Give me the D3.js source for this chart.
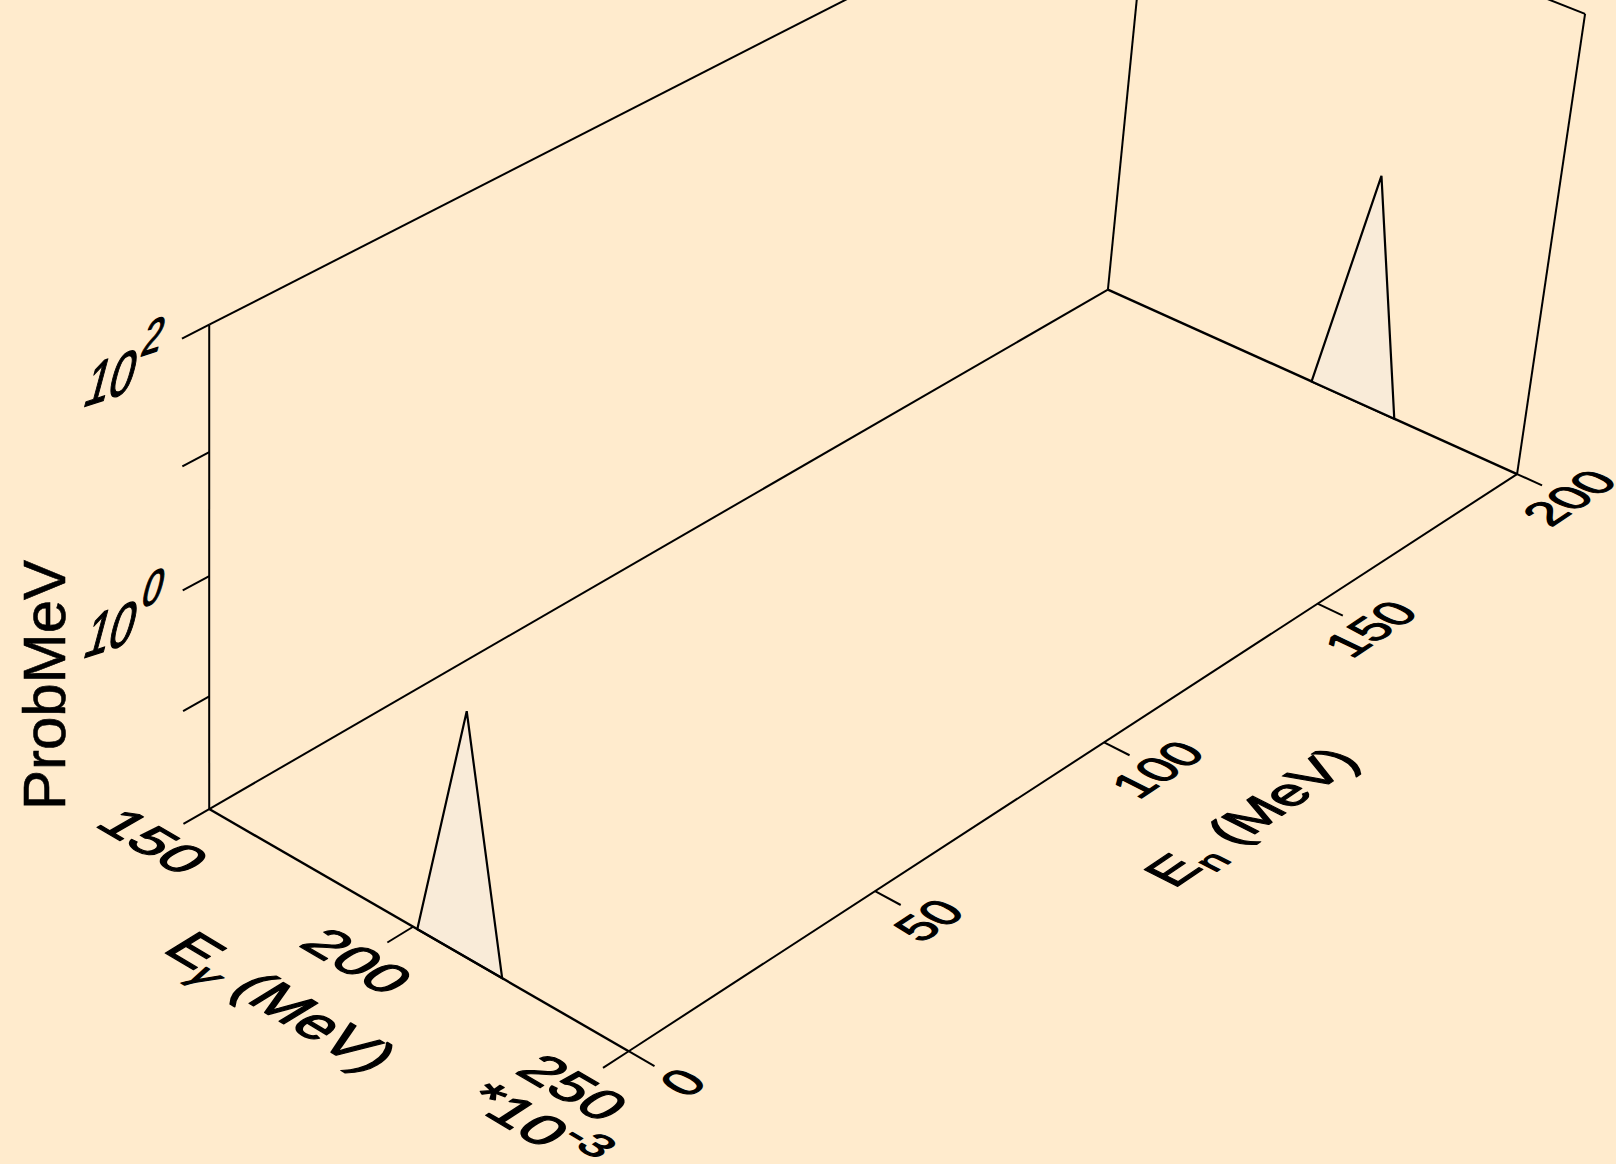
<!DOCTYPE html>
<html><head><meta charset="utf-8">
<script src="https://cdn.jsdelivr.net/npm/d3@7"></script>
<style>html,body{margin:0;padding:0;background:#ffebcd;} svg{display:block;}</style>
</head><body><svg id="chart" width="1616" height="1164"></svg>
<script>
// ---------------- data ----------------
const egammaDomain = [150, 250];          // Eγ axis (×10^-3 MeV)
const enDomain = [0, 200];                // En axis (MeV)
const probDomain = [Math.pow(10, -1.96), 100];
const egammaTicks = [150, 200, 250];
const enTicks = [0, 50, 100, 150, 200];
const probTicks = [0.1, 1, 10, 100];
const probLabelExps = [0, 2];             // labelled decades 10^0, 10^2
const peakEgamma = [201, 211, 221];
const peakSliceEn = [0, 200];
const peakProbEn0 = [0, 1.1, 0];
const peakProbEn200 = [0, 1.1, 0];

// ---------------- projection (perspective camera) ----------------
const S = 1616 / 1568;
function proj(u, v, w) {
  const D = 1 - 0.05428 * u + 0.14304 * v - 0.05381 * w;
  const X = (373.89 * u + 1025.77 * v - 10.92 * w + 203) / D;
  const Y = (179.63 * u - 463.81 * v - 486.9 * w + 785) / D;
  return [X * S, Y * S];
}
const xs = d3.scaleLinear().domain(egammaDomain).range([0, 1]);
const ys = d3.scaleLinear().domain(enDomain).range([0, 1]);
const zs = d3.scaleLog().domain(probDomain).range([0, 1]);
const zw = p => (p > 0 ? Math.max(0, zs(p)) : 0);

const svg = d3.select('#chart');
svg.append('rect').attr('width', 1616).attr('height', 1164).attr('fill', '#ffebcd');
const line = d3.line();
const FONT = '"Liberation Sans", Arial, Helvetica, sans-serif';

function seg(g, a, b, sw) {
  g.append('path').attr('d', line([proj(...a), proj(...b)]))
    .attr('stroke', '#000').attr('stroke-width', sw).attr('fill', 'none')
    .attr('stroke-linecap', 'butt');
}

const gBox = svg.append('g');
seg(gBox, [0, 0, 0], [0, 1, 0], 2);
seg(gBox, [0, 1, 0], [1, 1, 0], 2.4);
seg(gBox, [0, 1, 0], [0, 1, 1], 2);
seg(gBox, [1, 1, 0], [1, 1, 1], 2);
seg(gBox, [0, 0, 1], [0, 1, 1], 2);
seg(gBox, [0, 1, 1], [1, 1, 1], 2);

// peaks (surface profile on the En slices)
const gPeaks = svg.append('g');
[[peakSliceEn[0], peakProbEn0], [peakSliceEn[1], peakProbEn200]].forEach(([en, probs]) => {
  const pts = peakEgamma.map((e, i) => proj(xs(e), ys(en), zw(probs[i])));
  gPeaks.append('path').attr('d', line(pts) + 'Z')
    .attr('fill', '#f9ebd8').attr('stroke', '#000').attr('stroke-width', 2.2)
    .attr('stroke-linejoin', 'miter');
});

// axes
const gAx = svg.append('g');
seg(gAx, [0, 0, 0], [1, 0, 0], 2.4);
seg(gAx, [1, 0, 0], [1, 1, 0], 2);
seg(gAx, [0, 0, 0], [0, 0, 1], 2);
egammaTicks.forEach(t => seg(gAx, [xs(t), 0, 0], [xs(t), -0.025, 0], 2));
enTicks.forEach(t => seg(gAx, [1, ys(t), 0], [1.058, ys(t), 0], 2));
probTicks.forEach(t => seg(gAx, [0, 0, zs(t)], [0, -0.025, zs(t)], 2));

// text helpers
function frameAt(p3, B, U) {
  const e = 1e-4;
  const p = proj(...p3);
  const pb = proj(p3[0] + B[0] * e, p3[1] + B[1] * e, p3[2] + B[2] * e);
  const pu = proj(p3[0] + U[0] * e, p3[1] + U[1] * e, p3[2] + U[2] * e);
  let bx = pb[0] - p[0], by = pb[1] - p[1]; const bl = Math.hypot(bx, by);
  let ux = pu[0] - p[0], uy = pu[1] - p[1]; const ul = Math.hypot(ux, uy);
  return { p, b: [bx / bl, by / bl], u: [ux / ul, uy / ul] };
}
const F = 50;
function placeText(p, b, u, emB, emU, sw) {
  const a = b[0] * emB / F, bb = b[1] * emB / F, c = -u[0] * emU / F, d = -u[1] * emU / F;
  return svg.append('g')
    .attr('transform', `matrix(${a},${bb},${c},${d},${p[0]},${p[1]})`)
    .append('text').attr('font-family', FONT).attr('font-size', F).attr('fill', '#000')
    .attr('stroke', '#000').attr('stroke-width', sw === undefined ? 1.3 : sw)
    .attr('stroke-linejoin', 'round');
}

// Eγ tick labels (floor plane, baseline along Eγ, up along En)
egammaTicks.forEach(t => {
  const f = frameAt([xs(t), -0.054, 0], [1, 0, 0], [0, 1, 0]);
  placeText(f.p, f.b, f.u, 61, 54).attr('text-anchor', 'middle')
    .attr('dominant-baseline', 'central').text(t);
});
// exponent
{
  const f = frameAt([1.025, -0.1, 0], [1, 0, 0], [0, 1, 0]);
  const t = placeText(f.p, f.b, f.u, 64, 54).attr('text-anchor', 'middle')
    .attr('dominant-baseline', 'central');
  t.append('tspan').text('*10');
  t.append('tspan').attr('font-size', F * 0.75).attr('dy', -F * 0.3).text('-3');
}
// Eγ title
{
  const f = frameAt([0.49, -0.122, 0], [1, 0, 0], [0, 1, 0]);
  const t = placeText(f.p, f.b, f.u, 60, 58).attr('text-anchor', 'middle')
    .attr('dominant-baseline', 'central');
  t.append('tspan').text('E');
  t.append('tspan').attr('font-size', F * 0.7).attr('dy', F * 0.3).attr('font-style', 'italic').text('γ');
  t.append('tspan').attr('dy', -F * 0.3).text(' (MeV)');
}
// En tick labels (floor plane, baseline along En, up along -Eγ)
enTicks.forEach(t => {
  const f = frameAt([1.122, ys(t), 0], [0, 1, 0], [-1, 0, 0]);
  placeText(f.p, f.b, f.u, 50, 50).attr('text-anchor', 'middle')
    .attr('dominant-baseline', 'central').text(t);
});
// En title
{
  const f = frameAt([1.33, 0.5, 0], [0, 1, 0], [-1, 0, 0]);
  const t = placeText(f.p, f.b, f.u, 56, 54).attr('text-anchor', 'middle')
    .attr('dominant-baseline', 'central');
  t.append('tspan').text('E');
  t.append('tspan').attr('font-size', F * 0.7).attr('dy', F * 0.3).text('n');
  t.append('tspan').attr('dy', -F * 0.3).text(' (MeV)');
}
// prob tick labels
probLabelExps.forEach(ex => {
  const p = proj(0, 0, zs(Math.pow(10, ex)));
  const ang = -18 * Math.PI / 180, lean = 15 * Math.PI / 180;
  const b = [Math.cos(ang), Math.sin(ang)], u = [Math.sin(lean), -Math.cos(lean)];
  const t = placeText([p[0] - 128, p[1] + 83], b, u, 46, 66, 1.1);
  t.append('tspan').text('10');
  t.append('tspan').attr('font-size', F * 0.8).attr('dy', -F * 0.55).text(ex);
});
// ProbMeV title
svg.append('text').attr('font-family', FONT).attr('font-size', 60)
  .attr('stroke', '#000').attr('stroke-width', 0.6)
  .attr('transform', 'translate(44,685) rotate(-90)')
  .attr('text-anchor', 'middle').attr('dominant-baseline', 'central').text('ProbMeV');
</script>
</body></html>
